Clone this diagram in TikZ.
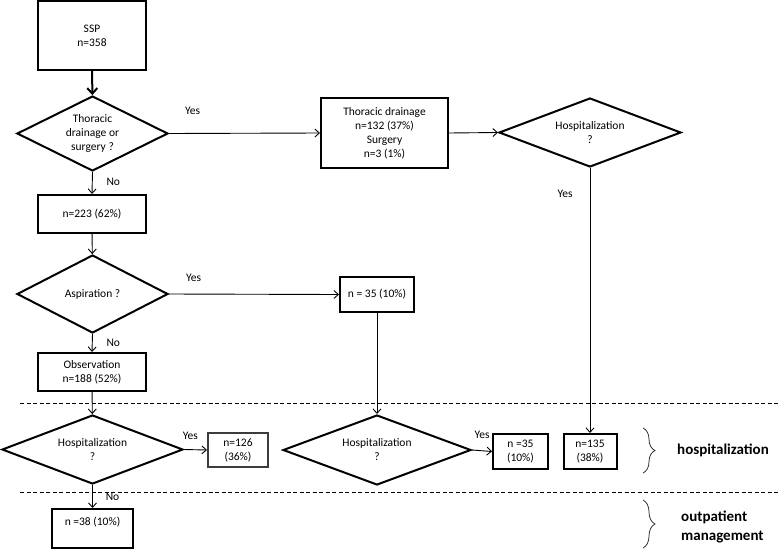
\documentclass[tikz,border=0pt]{standalone}
\usepackage{fontspec}
\setmainfont{Carlito}
\usetikzlibrary{arrows.meta,shapes.geometric,decorations.pathreplacing,positioning}
\definecolor{fcInk}{HTML}{000000}
\definecolor{fcGray}{HTML}{3C3C3C}
\tikzset{
 chart/.style={font=\fontsize{11.5}{14}\selectfont,line join=miter,text=fcInk},
 stepbox/.style={rectangle,draw=fcInk,line width=2pt,fill=white,align=center,inner sep=0pt},
 decision/.style={diamond,aspect=2,draw=fcInk,line width=2pt,fill=white,align=center,inner sep=0pt},
 flow/.style={draw=fcInk,line width=.9pt,-{Straight Barb[length=4.5pt,width=8pt]}},
 mainflow/.style={draw=fcInk,line width=2pt,-{Straight Barb[length=5.5pt,width=10pt]}},
 tag/.style={inner sep=0pt},
 band/.style={draw=fcInk,line width=.8pt,dash pattern=on 4pt off 2.5pt},
 bracket/.style={draw=fcInk!80,line width=.8pt,decorate,decoration={brace,amplitude=12pt}},
 group/.style={font=\fontsize{15}{19}\selectfont\bfseries,align=left,anchor=west,inner sep=0pt}
}

\begin{document}
\begin{tikzpicture}[chart,x=1pt,y=-1pt]
 \useasboundingbox (0,0) rectangle (778,549);
 % care levels
 \draw[band] (20,403)--(778,403);
 \draw[band] (20,492)--(778,492);
 % boxes and decisions
 \node[stepbox,minimum width=108,minimum height=69] (ssp) at (92,35.5) {SSP\\n=358};
 \node[decision,minimum width=151,minimum height=75] (q1) at (92.5,133.5) {Thoracic\\drainage or\\surgery ?};
 \node[stepbox,minimum width=127,minimum height=70] (drain) at (384.5,133) {Thoracic drainage\\n=132 (37\%)\\Surgery\\n=3 (1\%)};
 \node[decision,minimum width=182,minimum height=69] (hospR) at (590,132.5) {Hospitalization\\?};
 \node[stepbox,minimum width=108,minimum height=38] (n223) at (92,214) {n=223 (62\%)};
 \node[decision,minimum width=151,minimum height=78] (asp) at (92.5,294) {Aspiration ?};
 \node[stepbox,minimum width=74,minimum height=35] (n35) at (377,294.5) {n = 35 (10\%)};
 \node[stepbox,minimum width=108,minimum height=38] (obs) at (92,372) {Observation\\n=188 (52\%)};
 \node[decision,minimum width=181,minimum height=69] (hosp1) at (92.5,449.5) {Hospitalization\\?};
 \node[stepbox,draw=fcGray,minimum width=60,minimum height=34] (n126) at (238,450) {n=126\\(36\%)};
 \node[decision,minimum width=188,minimum height=70] (hosp2) at (377,450) {Hospitalization\\?};
 \node[stepbox,minimum width=55,minimum height=35] (n35b) at (520.5,451.5) {n =35\\(10\%)};
 \node[stepbox,minimum width=53,minimum height=35] (n135) at (590,451.5) {n=135\\(38\%)};
 \node[stepbox,minimum width=81,minimum height=39] (n38) at (92.5,528.5) {n =38 (10\%)\\\mbox{}};
 % connectors
 \draw[mainflow] (ssp) -- (q1);
 \draw[flow] (q1.east) -- node[tag,pos=.157,yshift=23] (yes1) {Yes} (drain.west);
 \draw[flow] (drain.east) -- (hospR.west);
 \draw[flow] (hospR.south) -- node[tag,pos=.097,xshift=-25] (yes2) {Yes} (n135.north);
 \draw[flow] (q1.south) -- node[tag,pos=.46,xshift=21] (no1) {No} (n223.north);
 \draw[flow] (n223) -- (asp);
 \draw[flow] (asp.east) -- node[tag,pos=.145,yshift=16] (yes3) {Yes} (n35.west);
 \draw[flow] (n35) -- (hosp2);
 \draw[flow] (asp.south) -- node[tag,pos=.5,xshift=21] (no2) {No} (obs.north);
 \draw[flow] (obs) -- (hosp1);
 \draw[flow] (hosp1.east) -- node[tag,pos=.28,yshift=13.5] (yes4) {Yes} (n126.west);
 \draw[flow] (hosp2.east) -- node[tag,pos=.5,yshift=16] (yes5) {Yes} (n35b.west);
 \draw[flow] (hosp1.south) -- node[tag,pos=.52,xshift=20] (no3) {No} (n38.north);
 % groups
 \draw[bracket] (643,428) -- (643,473);
 \draw[bracket] (643,500) -- (643,548);
 \node[group] (hlab) at (677,450) {hospitalization};
 \node[group] (olab) at (681,527) {outpatient\\management};
\end{tikzpicture}
\end{document}
